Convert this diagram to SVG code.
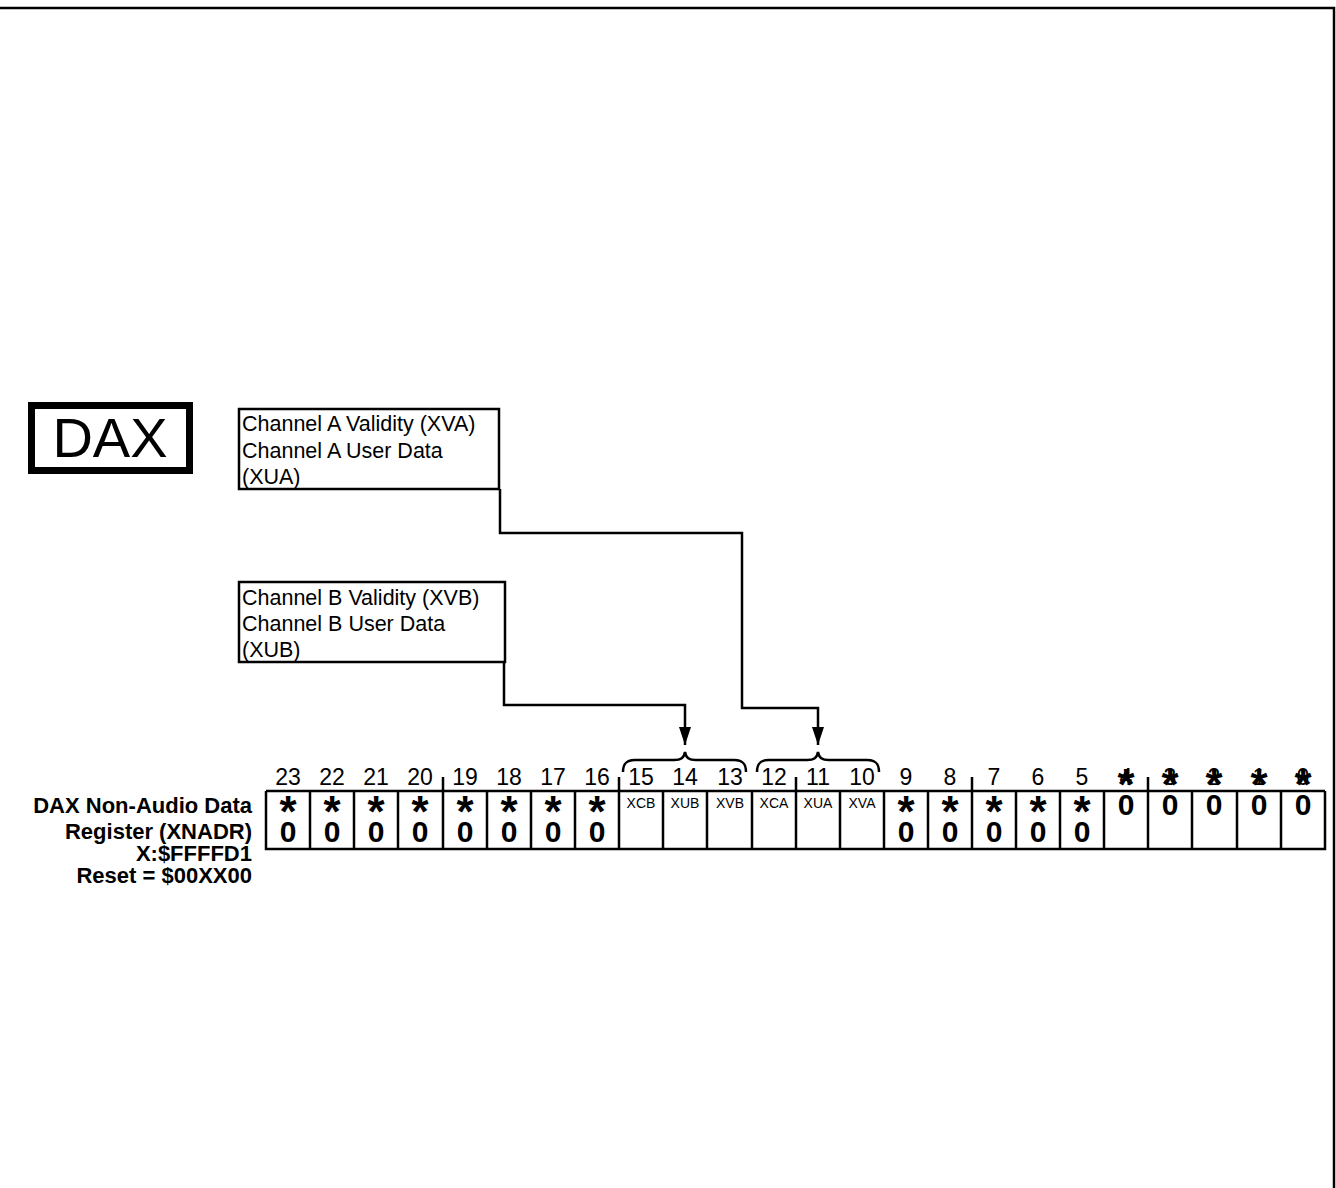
<svg xmlns="http://www.w3.org/2000/svg" width="1336" height="1188" viewBox="0 0 1336 1188">
<style>
text{font-family:"Liberation Sans",Arial,sans-serif;fill:#000}
.ln{fill:none;stroke:#000;stroke-width:2.5}
.lbl{font-size:21.5px}
.num{font-size:23px;text-anchor:middle}
.big{font-size:30px;font-weight:bold;text-anchor:middle}
.st{font-size:44px;font-weight:bold;text-anchor:middle}
.sm{font-size:14px;text-anchor:middle}
.reg{font-size:22px;font-weight:bold;text-anchor:end}
</style>
<defs>
<marker id="ah" markerUnits="userSpaceOnUse" markerWidth="18" markerHeight="12" refX="18" refY="6" orient="auto" viewBox="0 0 18 12">
<path d="M0,0 L18,6 L0,12 Z" fill="#000"/>
</marker>
</defs>
<rect width="1336" height="1188" fill="#fff"/>
<path class="ln" d="M0,8 H1334 V1188"/>
<g id="dax">
<rect x="31.5" y="405.5" width="158" height="65" fill="none" stroke="#000" stroke-width="7"/>
<text x="110" y="457" font-size="56" text-anchor="middle">DAX</text>
</g>
<g id="boxA">
<rect class="ln" x="239" y="409" width="260" height="80"/>
<text class="lbl" x="242" y="431">Channel A Validity (XVA)</text>
<text class="lbl" x="242" y="458">Channel A User Data</text>
<text class="lbl" x="242" y="484">(XUA)</text>
</g>
<g id="boxB">
<rect class="ln" x="239" y="582" width="266" height="80"/>
<text class="lbl" x="242" y="605">Channel B Validity (XVB)</text>
<text class="lbl" x="242" y="631">Channel B User Data</text>
<text class="lbl" x="242" y="657">(XUB)</text>
</g>
<g id="connectors">
<path class="ln" d="M500,489 V533 H742 V708 H818 V745" marker-end="url(#ah)"/>
<path class="ln" d="M504,662 V705 H685 V745" marker-end="url(#ah)"/>
<path class="ln" d="M623,772 C623,764 626,760 635,760 L674,760 C681,760 684,758 685,752 C686,758 689,760 696,760 L734,760 C743,760 746,764 746,772"/>
<path class="ln" d="M757,772 C757,764 760,760 769,760 L807,760 C814,760 817,758 818,752 C819,758 822,760 829,760 L867,760 C876,760 879,764 879,772"/>
</g>
<g id="label">
<text class="reg" x="252" y="813">DAX Non-Audio Data</text>
<text class="reg" x="252" y="839">Register (XNADR)</text>
<text class="reg" x="252" y="861">X:$FFFFD1</text>
<text class="reg" x="252" y="883">Reset = $00XX00</text>
</g>
<g id="register">
<path class="ln" d="M266,791 H1325 M266,791 V849 H1325 V791"/>
<path class="ln" d="M310,791V849 M354,791V849 M398,791V849 M443,777V849 M487,791V849 M531,791V849 M575,791V849 M619,777V849 M663,791V849 M707,791V849 M752,791V849 M796,777V849 M840,791V849 M884,791V849 M928,791V849 M972,777V849 M1016,791V849 M1060,791V849 M1104,791V849 M1148,777V849 M1192,791V849 M1237,791V849 M1281,791V849"/>
<g class="nums">
<text class="num" x="288" y="785">23</text>
<text class="num" x="332" y="785">22</text>
<text class="num" x="376" y="785">21</text>
<text class="num" x="420" y="785">20</text>
<text class="num" x="465" y="785">19</text>
<text class="num" x="509" y="785">18</text>
<text class="num" x="553" y="785">17</text>
<text class="num" x="597" y="785">16</text>
<text class="num" x="641" y="785">15</text>
<text class="num" x="685" y="785">14</text>
<text class="num" x="730" y="785">13</text>
<text class="num" x="774" y="785">12</text>
<text class="num" x="818" y="785">11</text>
<text class="num" x="862" y="785">10</text>
<text class="num" x="906" y="785">9</text>
<text class="num" x="950" y="785">8</text>
<text class="num" x="994" y="785">7</text>
<text class="num" x="1038" y="785">6</text>
<text class="num" x="1082" y="785">5</text>
<text class="num" x="1126" y="785">4</text>
<text class="num" x="1170" y="785">3</text>
<text class="num" x="1214" y="785">2</text>
<text class="num" x="1259" y="785">1</text>
<text class="num" x="1303" y="785">0</text>
</g>
<g class="fields">
<text class="sm" x="641" y="808">XCB</text>
<text class="sm" x="685" y="808">XUB</text>
<text class="sm" x="730" y="808">XVB</text>
<text class="sm" x="774" y="808">XCA</text>
<text class="sm" x="818" y="808">XUA</text>
<text class="sm" x="862" y="808">XVA</text>
</g>
<g class="stars">
<text class="st" x="288" y="827">*</text><text class="big" x="288" y="842">0</text>
<text class="st" x="332" y="827">*</text><text class="big" x="332" y="842">0</text>
<text class="st" x="376" y="827">*</text><text class="big" x="376" y="842">0</text>
<text class="st" x="420" y="827">*</text><text class="big" x="420" y="842">0</text>
<text class="st" x="465" y="827">*</text><text class="big" x="465" y="842">0</text>
<text class="st" x="509" y="827">*</text><text class="big" x="509" y="842">0</text>
<text class="st" x="553" y="827">*</text><text class="big" x="553" y="842">0</text>
<text class="st" x="597" y="827">*</text><text class="big" x="597" y="842">0</text>
<text class="st" x="906" y="827">*</text><text class="big" x="906" y="842">0</text>
<text class="st" x="950" y="827">*</text><text class="big" x="950" y="842">0</text>
<text class="st" x="994" y="827">*</text><text class="big" x="994" y="842">0</text>
<text class="st" x="1038" y="827">*</text><text class="big" x="1038" y="842">0</text>
<text class="st" x="1082" y="827">*</text><text class="big" x="1082" y="842">0</text>
<text class="st" x="1126" y="800">*</text><text class="big" x="1126" y="815">0</text>
<text class="st" x="1170" y="800">*</text><text class="big" x="1170" y="815">0</text>
<text class="st" x="1214" y="800">*</text><text class="big" x="1214" y="815">0</text>
<text class="st" x="1259" y="800">*</text><text class="big" x="1259" y="815">0</text>
<text class="st" x="1303" y="800">*</text><text class="big" x="1303" y="815">0</text>
</g>
</g>
</svg>
